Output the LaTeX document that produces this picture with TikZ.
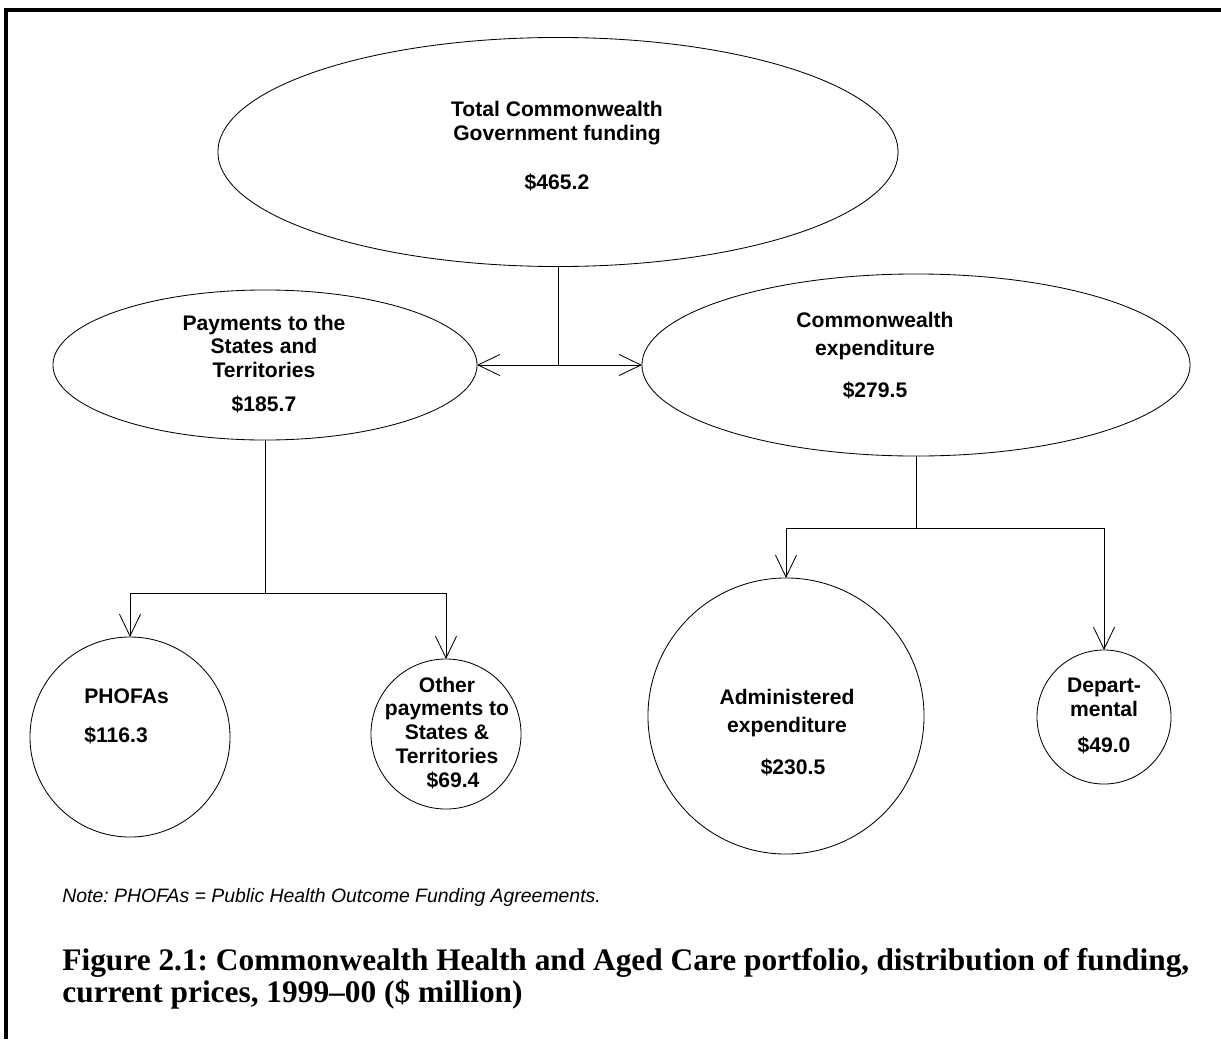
\documentclass[tikz,border=0pt]{standalone}
\usepackage{fontspec}
\setmainfont{Liberation Sans}
\newfontfamily\capfont{Liberation Serif}
\usetikzlibrary{arrows.meta,shapes.geometric}
\frenchspacing

\begin{document}
\begin{tikzpicture}[x=0.025cm,y=-0.025cm,line width=0.6pt,
	>={Straight Barb[length=5.5mm,width=5.3mm]},
	bubble/.style={draw,ellipse,inner sep=0pt,outer sep=0pt},
	ball/.style={draw,circle,inner sep=0pt,outer sep=0pt},
	lbl/.style={align=center,inner sep=0pt,font=\fontsize{15}{17}\selectfont\bfseries}]
	\useasboundingbox (0,0) rectangle (1221,1039);

	% frame (open at right and bottom)
	\draw[line width=2.4pt] (6,1039) -- (6,10) -- (1221,10);

	%% funding bubbles
	\node[bubble,minimum width=17cm,minimum height=5.725cm] (tot) at (558,152) {};
	\node[bubble,minimum width=10.6cm,minimum height=3.75cm] (pay) at (265,365) {};
	\node[bubble,minimum width=13.7cm,minimum height=4.55cm] (cwe) at (916,365) {};
	\node[ball,minimum size=5cm] (phofa) at (130,737) {};
	\node[ball,minimum size=3.75cm] (other) at (446,734) {};
	\node[ball,minimum size=6.9cm] (adm) at (786,716) {};
	\node[ball,minimum size=3.35cm] (dep) at (1104,717) {};

	\node[lbl] (tot-txt) at (557,146) {Total Commonwealth\\Government funding\\[0.62cm]\$465.2};
	\node[lbl] (pay-txt) at (264,364) {Payments to the\\States and\\Territories\\[0.25cm]\$185.7};
	\node[lbl] (cwe-txt) at (875,356) {Commonwealth\\[0.1cm]expenditure\\[0.45cm]\$279.5};
	\node[lbl,align=left,anchor=west] (phofa-txt) at (84,716) {PHOFAs\\[0.38cm]\$116.3};
	\node[lbl] (other-txt) at (447,733) {Other\\payments to\\States \&\\Territories\\\hspace*{0.3cm}\$69.4};
	\node[lbl] (adm-txt) at (787,733) {Administered\\[0.1cm]expenditure\\[0.45cm]\hspace*{0.3cm}\$230.5};
	\node[lbl] (dep-txt) at (1104,716) {Depart-\\mental\\[0.3cm]\$49.0};

	%% connectors
	\coordinate (split) at (tot.south |- pay.east);
	\draw (tot.south) -- (split);
	\draw[->] (split) -- (pay.east);
	\draw[->] (split) -- (cwe.west);

	\coordinate (payfork) at (pay.south |- 0,593);
	\draw (pay.south) -- (payfork);
	\draw[->] (payfork) -| (phofa.north);
	\draw[->] (payfork) -| (other.north);

	\coordinate (cwefork) at (cwe.south |- 0,528);
	\draw (cwe.south) -- (cwefork);
	\draw[->] (cwefork) -| (adm.north);
	\draw[->] (cwefork) -| (dep.north);

	%% note and caption
	\node[anchor=west,inner sep=0pt,font=\fontsize{13.8}{15}\selectfont\itshape] (note) at (62,897)
		{Note: PHOFAs = Public Health Outcome Funding Agreements.};
	\node[anchor=west,align=left,inner sep=0pt,font=\capfont\fontsize{22.3}{23}\selectfont\bfseries] (caption) at (62,979)
		{Figure 2.1: Commonwealth Health and Aged Care portfolio, distribution of funding,\\current prices, 1999–00 (\$ million)};
\end{tikzpicture}
\end{document}
